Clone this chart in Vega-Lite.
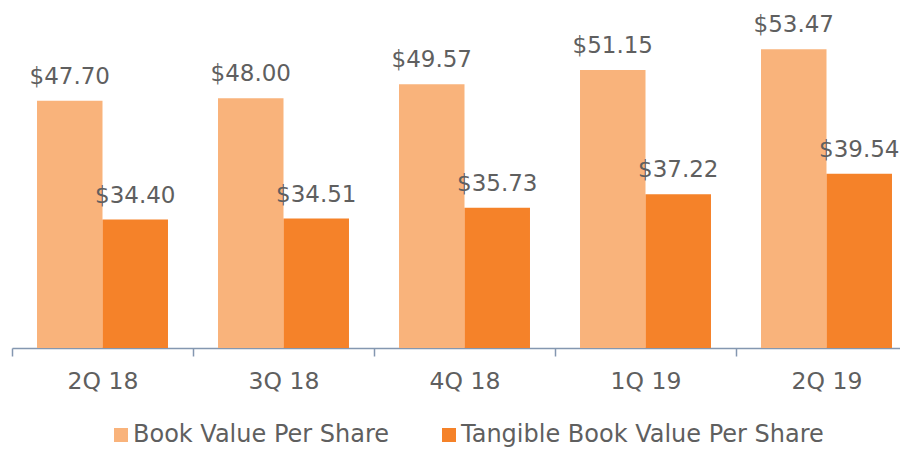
{
  "$schema": "https://vega.github.io/schema/vega-lite/v6.json",
  "width": 905,
  "height": 348,
  "autosize": {"type": "none"},
  "padding": {"left": 12, "top": 0, "right": 0, "bottom": 101},
  "background": "white",
  "config": {"view": {"stroke": null}, "font": "DejaVu Sans"},
  "data": {
    "values": [
      {"quarter": "2Q 18", "series": "Book Value Per Share", "value": 47.70, "label": "$47.70"},
      {"quarter": "2Q 18", "series": "Tangible Book Value Per Share", "value": 34.40, "label": "$34.40"},
      {"quarter": "3Q 18", "series": "Book Value Per Share", "value": 48.00, "label": "$48.00"},
      {"quarter": "3Q 18", "series": "Tangible Book Value Per Share", "value": 34.51, "label": "$34.51"},
      {"quarter": "4Q 18", "series": "Book Value Per Share", "value": 49.57, "label": "$49.57"},
      {"quarter": "4Q 18", "series": "Tangible Book Value Per Share", "value": 35.73, "label": "$35.73"},
      {"quarter": "1Q 19", "series": "Book Value Per Share", "value": 51.15, "label": "$51.15"},
      {"quarter": "1Q 19", "series": "Tangible Book Value Per Share", "value": 37.22, "label": "$37.22"},
      {"quarter": "2Q 19", "series": "Book Value Per Share", "value": 53.47, "label": "$53.47"},
      {"quarter": "2Q 19", "series": "Tangible Book Value Per Share", "value": 39.54, "label": "$39.54"}
    ]
  },
  "encoding": {
    "x": {
      "field": "quarter", "type": "nominal", "sort": null,
      "scale": {"paddingInner": 0, "paddingOuter": 0},
      "axis": {
        "title": null, "labelAngle": 0, "tickBand": "extent",
        "domainColor": "#8497B0", "tickColor": "#8497B0", "tickSize": 8, "domainWidth": 1.5, "tickWidth": 1.5,
        "labelFontSize": 23.5, "labelColor": "#5f5f5f", "labelPadding": 13, "labelFont": "DejaVu Sans"
      }
    },
    "xOffset": {"field": "series", "type": "nominal", "scale": {"paddingInner": 0, "paddingOuter": 0.382}},
    "y": {"field": "value", "type": "quantitative", "scale": {"domain": [20, 59], "zero": false, "nice": false}, "axis": null}
  },
  "layer": [
    {
      "mark": {"type": "bar", "clip": true},
      "encoding": {
        "color": {
          "field": "series", "type": "nominal",
          "scale": {"domain": ["Book Value Per Share", "Tangible Book Value Per Share"], "range": ["#F9B37B", "#F58229"]},
          "legend": {
            "title": null, "orient": "none", "direction": "horizontal",
            "legendX": 97, "legendY": 423,
            "symbolType": "square", "symbolSize": 196, "symbolStrokeWidth": 0,
            "labelFontSize": 24, "labelColor": "#5f5f5f", "labelFont": "DejaVu Sans",
            "columnPadding": 47, "labelOffset": 0, "labelLimit": 500
          }
        }
      }
    },
    {
      "mark": {"type": "text", "fontSize": 23, "color": "#5f5f5f", "baseline": "alphabetic", "dy": -17, "font": "DejaVu Sans"},
      "encoding": {"text": {"field": "label"}}
    }
  ]
}
